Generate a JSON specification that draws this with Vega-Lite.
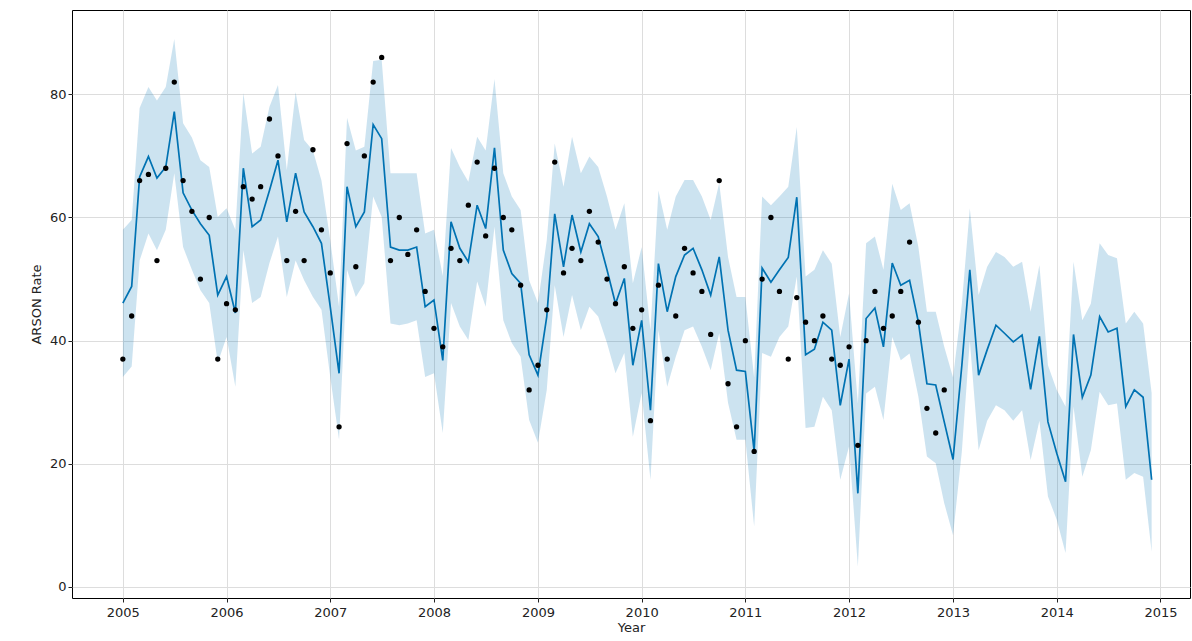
{
  "$schema": "https://vega.github.io/schema/vega-lite/v6.json",
  "width": 1118,
  "height": 588,
  "autosize": "none",
  "padding": {"left": 72, "top": 10, "right": 2, "bottom": 43},
  "background": "white",
  "config": {
    "view": {"stroke": "#000000", "strokeWidth": 1},
    "font": "DejaVu Sans",
    "axis": {
      "labelFont": "DejaVu Sans",
      "labelFontSize": 13,
      "labelColor": "#222222",
      "titleFont": "DejaVu Sans",
      "titleFontSize": 13,
      "titleFontWeight": "normal",
      "titleColor": "#222222",
      "gridColor": "#dddddd",
      "domain": false,
      "tickColor": "#222222",
      "tickSize": 4
    }
  },
  "data": {
    "values": [
      {"ds": "2005/01/01", "yhat": 46.1, "lower": 34.1, "upper": 58, "y": 37},
      {"ds": "2005/02/01", "yhat": 48.8, "lower": 35.8, "upper": 59.6, "y": 44},
      {"ds": "2005/03/01", "yhat": 66.6, "lower": 53, "upper": 77.8, "y": 66},
      {"ds": "2005/04/01", "yhat": 69.9, "lower": 57.4, "upper": 81.2, "y": 67},
      {"ds": "2005/05/01", "yhat": 66.4, "lower": 54.7, "upper": 79, "y": 53},
      {"ds": "2005/06/01", "yhat": 68.2, "lower": 58, "upper": 81.2, "y": 68},
      {"ds": "2005/07/01", "yhat": 77.2, "lower": 67.2, "upper": 89, "y": 82},
      {"ds": "2005/08/01", "yhat": 64, "lower": 55.2, "upper": 75.3, "y": 66},
      {"ds": "2005/09/01", "yhat": 61.2, "lower": 51.5, "upper": 73, "y": 61},
      {"ds": "2005/10/01", "yhat": 59, "lower": 48.2, "upper": 69.3, "y": 50},
      {"ds": "2005/11/01", "yhat": 57.1, "lower": 46.1, "upper": 68.2, "y": 60},
      {"ds": "2005/12/01", "yhat": 47.4, "lower": 36.4, "upper": 60.1, "y": 37},
      {"ds": "2006/01/01", "yhat": 50.4, "lower": 40.6, "upper": 61.5, "y": 46},
      {"ds": "2006/02/01", "yhat": 44.5, "lower": 32.5, "upper": 58, "y": 45},
      {"ds": "2006/03/01", "yhat": 68, "lower": 54.7, "upper": 80.2, "y": 65},
      {"ds": "2006/04/01", "yhat": 58.5, "lower": 46.1, "upper": 70.4, "y": 63},
      {"ds": "2006/05/01", "yhat": 59.6, "lower": 47.1, "upper": 71.5, "y": 65},
      {"ds": "2006/06/01", "yhat": 64.4, "lower": 52.6, "upper": 78, "y": 76},
      {"ds": "2006/07/01", "yhat": 69.3, "lower": 56.9, "upper": 81.5, "y": 70},
      {"ds": "2006/08/01", "yhat": 59.3, "lower": 47.1, "upper": 67.7, "y": 53},
      {"ds": "2006/09/01", "yhat": 67.2, "lower": 53, "upper": 80.4, "y": 61},
      {"ds": "2006/10/01", "yhat": 60.9, "lower": 49.8, "upper": 72.6, "y": 53},
      {"ds": "2006/11/01", "yhat": 58.5, "lower": 47.1, "upper": 70.9, "y": 71},
      {"ds": "2006/12/01", "yhat": 55.8, "lower": 45, "upper": 66, "y": 58},
      {"ds": "2007/01/01", "yhat": 45.5, "lower": 34.1, "upper": 56.3, "y": 51},
      {"ds": "2007/02/01", "yhat": 34.7, "lower": 23.9, "upper": 45.5, "y": 26},
      {"ds": "2007/03/01", "yhat": 65, "lower": 51.5, "upper": 76.2, "y": 72},
      {"ds": "2007/04/01", "yhat": 58.5, "lower": 47.1, "upper": 70.9, "y": 52},
      {"ds": "2007/05/01", "yhat": 60.9, "lower": 49.3, "upper": 71.5, "y": 70},
      {"ds": "2007/06/01", "yhat": 75.1, "lower": 63.4, "upper": 85.4, "y": 82},
      {"ds": "2007/07/01", "yhat": 72.8, "lower": 60.1, "upper": 85.6, "y": 86},
      {"ds": "2007/08/01", "yhat": 55.2, "lower": 42.8, "upper": 67.2, "y": 53},
      {"ds": "2007/09/01", "yhat": 54.7, "lower": 42.5, "upper": 67.2, "y": 60},
      {"ds": "2007/10/01", "yhat": 54.7, "lower": 42.8, "upper": 67.2, "y": 54},
      {"ds": "2007/11/01", "yhat": 55.2, "lower": 43.3, "upper": 67.2, "y": 58},
      {"ds": "2007/12/01", "yhat": 45.5, "lower": 34.1, "upper": 57.4, "y": 48},
      {"ds": "2008/01/01", "yhat": 46.6, "lower": 34.7, "upper": 58, "y": 42},
      {"ds": "2008/02/01", "yhat": 36.8, "lower": 25, "upper": 50.5, "y": 39},
      {"ds": "2008/03/01", "yhat": 59.3, "lower": 46.1, "upper": 71.3, "y": 55},
      {"ds": "2008/04/01", "yhat": 55, "lower": 42.3, "upper": 68.2, "y": 53},
      {"ds": "2008/05/01", "yhat": 52.8, "lower": 40.1, "upper": 65.8, "y": 62},
      {"ds": "2008/06/01", "yhat": 62, "lower": 49.6, "upper": 73.1, "y": 69},
      {"ds": "2008/07/01", "yhat": 58.2, "lower": 45.5, "upper": 70.9, "y": 57},
      {"ds": "2008/08/01", "yhat": 71.3, "lower": 58.5, "upper": 82.5, "y": 68},
      {"ds": "2008/09/01", "yhat": 54.7, "lower": 43.3, "upper": 67.2, "y": 60},
      {"ds": "2008/10/01", "yhat": 50.9, "lower": 39.6, "upper": 63.4, "y": 58},
      {"ds": "2008/11/01", "yhat": 49.3, "lower": 37.4, "upper": 61.2, "y": 49},
      {"ds": "2008/12/01", "yhat": 37.7, "lower": 27.1, "upper": 49.8, "y": 32},
      {"ds": "2009/01/01", "yhat": 34.4, "lower": 23.4, "upper": 46.1, "y": 36},
      {"ds": "2009/02/01", "yhat": 43.9, "lower": 32, "upper": 56.3, "y": 45},
      {"ds": "2009/03/01", "yhat": 60.6, "lower": 49, "upper": 72, "y": 69},
      {"ds": "2009/04/01", "yhat": 52, "lower": 40.6, "upper": 65, "y": 51},
      {"ds": "2009/05/01", "yhat": 60.4, "lower": 47.4, "upper": 73.1, "y": 55},
      {"ds": "2009/06/01", "yhat": 54.4, "lower": 41.7, "upper": 67.2, "y": 53},
      {"ds": "2009/07/01", "yhat": 59, "lower": 45.5, "upper": 69.9, "y": 61},
      {"ds": "2009/08/01", "yhat": 56.9, "lower": 43.9, "upper": 68.2, "y": 56},
      {"ds": "2009/09/01", "yhat": 51.5, "lower": 39.6, "upper": 63.4, "y": 50},
      {"ds": "2009/10/01", "yhat": 46, "lower": 34.7, "upper": 58, "y": 46},
      {"ds": "2009/11/01", "yhat": 50.1, "lower": 38, "upper": 62.3, "y": 52},
      {"ds": "2009/12/01", "yhat": 36, "lower": 24.4, "upper": 49.3, "y": 42},
      {"ds": "2010/01/01", "yhat": 43.3, "lower": 31.5, "upper": 55.2, "y": 45},
      {"ds": "2010/02/01", "yhat": 28.7, "lower": 17.4, "upper": 41.7, "y": 27},
      {"ds": "2010/03/01", "yhat": 52.5, "lower": 41.7, "upper": 64.4, "y": 49},
      {"ds": "2010/04/01", "yhat": 44.7, "lower": 32.5, "upper": 58, "y": 37},
      {"ds": "2010/05/01", "yhat": 50.4, "lower": 37.4, "upper": 63.4, "y": 44},
      {"ds": "2010/06/01", "yhat": 53.9, "lower": 41.7, "upper": 66.1, "y": 55},
      {"ds": "2010/07/01", "yhat": 55, "lower": 42.3, "upper": 66.1, "y": 51},
      {"ds": "2010/08/01", "yhat": 51.5, "lower": 39, "upper": 63.4, "y": 48},
      {"ds": "2010/09/01", "yhat": 47.4, "lower": 35.2, "upper": 59.6, "y": 41},
      {"ds": "2010/10/01", "yhat": 53.6, "lower": 41.2, "upper": 65.6, "y": 66},
      {"ds": "2010/11/01", "yhat": 41.7, "lower": 29.9, "upper": 53.6, "y": 33},
      {"ds": "2010/12/01", "yhat": 35.2, "lower": 23.9, "upper": 47.1, "y": 26},
      {"ds": "2011/01/01", "yhat": 35, "lower": 23.9, "upper": 47.1, "y": 40},
      {"ds": "2011/02/01", "yhat": 22, "lower": 9.8, "upper": 34, "y": 22},
      {"ds": "2011/03/01", "yhat": 51.8, "lower": 38, "upper": 63.4, "y": 50},
      {"ds": "2011/04/01", "yhat": 49.5, "lower": 37.4, "upper": 62, "y": 60},
      {"ds": "2011/05/01", "yhat": 51.5, "lower": 40.6, "upper": 63.4, "y": 48},
      {"ds": "2011/06/01", "yhat": 53.5, "lower": 42.3, "upper": 65, "y": 37},
      {"ds": "2011/07/01", "yhat": 63.3, "lower": 50.4, "upper": 74.7, "y": 47},
      {"ds": "2011/08/01", "yhat": 37.7, "lower": 25.8, "upper": 50.4, "y": 43},
      {"ds": "2011/09/01", "yhat": 38.6, "lower": 26, "upper": 51.5, "y": 40},
      {"ds": "2011/10/01", "yhat": 43, "lower": 30.9, "upper": 54.7, "y": 44},
      {"ds": "2011/11/01", "yhat": 41.7, "lower": 28.7, "upper": 52.5, "y": 37},
      {"ds": "2011/12/01", "yhat": 29.5, "lower": 17.4, "upper": 40.6, "y": 36},
      {"ds": "2012/01/01", "yhat": 37, "lower": 22.8, "upper": 47.7, "y": 39},
      {"ds": "2012/02/01", "yhat": 15.2, "lower": 3.3, "upper": 29.8, "y": 23},
      {"ds": "2012/03/01", "yhat": 43.6, "lower": 31.4, "upper": 55.8, "y": 40},
      {"ds": "2012/04/01", "yhat": 45.3, "lower": 32.5, "upper": 56.9, "y": 48},
      {"ds": "2012/05/01", "yhat": 39, "lower": 27.1, "upper": 51.5, "y": 42},
      {"ds": "2012/06/01", "yhat": 52.6, "lower": 40.6, "upper": 65.5, "y": 44},
      {"ds": "2012/07/01", "yhat": 49, "lower": 36.8, "upper": 61.2, "y": 48},
      {"ds": "2012/08/01", "yhat": 49.8, "lower": 37.9, "upper": 62.3, "y": 56},
      {"ds": "2012/09/01", "yhat": 43, "lower": 30.9, "upper": 55.2, "y": 43},
      {"ds": "2012/10/01", "yhat": 33, "lower": 21.2, "upper": 44.7, "y": 29},
      {"ds": "2012/11/01", "yhat": 32.8, "lower": 20.1, "upper": 44.7, "y": 25},
      {"ds": "2012/12/01", "yhat": 26.8, "lower": 13.6, "upper": 39, "y": 32},
      {"ds": "2013/01/01", "yhat": 20.7, "lower": 8.4, "upper": 34},
      {"ds": "2013/02/01", "yhat": 36, "lower": 22, "upper": 46},
      {"ds": "2013/03/01", "yhat": 51.5, "lower": 40, "upper": 61.5},
      {"ds": "2013/04/01", "yhat": 34.4, "lower": 22.2, "upper": 47.4},
      {"ds": "2013/05/01", "yhat": 38.5, "lower": 27, "upper": 52},
      {"ds": "2013/06/01", "yhat": 42.5, "lower": 29.5, "upper": 54.4},
      {"ds": "2013/07/01", "yhat": 41.2, "lower": 28.7, "upper": 53.6},
      {"ds": "2013/08/01", "yhat": 39.8, "lower": 27, "upper": 52},
      {"ds": "2013/09/01", "yhat": 40.9, "lower": 28.7, "upper": 52.8},
      {"ds": "2013/10/01", "yhat": 32.1, "lower": 20.6, "upper": 44.7},
      {"ds": "2013/11/01", "yhat": 40.7, "lower": 27, "upper": 52.3},
      {"ds": "2013/12/01", "yhat": 26.8, "lower": 14.7, "upper": 36},
      {"ds": "2014/01/01", "yhat": 21.7, "lower": 10.9, "upper": 32},
      {"ds": "2014/02/01", "yhat": 17.1, "lower": 5.5, "upper": 29.3},
      {"ds": "2014/03/01", "yhat": 41, "lower": 29.3, "upper": 52.8},
      {"ds": "2014/04/01", "yhat": 30.8, "lower": 17.9, "upper": 43.3},
      {"ds": "2014/05/01", "yhat": 34.4, "lower": 22.2, "upper": 46},
      {"ds": "2014/06/01", "yhat": 43.9, "lower": 31.7, "upper": 55.8},
      {"ds": "2014/07/01", "yhat": 41.4, "lower": 29.5, "upper": 53.9},
      {"ds": "2014/08/01", "yhat": 42, "lower": 29.8, "upper": 53.4},
      {"ds": "2014/09/01", "yhat": 29.3, "lower": 17.4, "upper": 42.8},
      {"ds": "2014/10/01", "yhat": 32, "lower": 18.5, "upper": 44.7},
      {"ds": "2014/11/01", "yhat": 30.8, "lower": 17.9, "upper": 42.8},
      {"ds": "2014/12/01", "yhat": 17.4, "lower": 5.7, "upper": 31.5}
    ]
  },
  "encoding": {
    "x": {
      "field": "ds",
      "type": "temporal",
      "title": "Year",
      "scale": {"domain": [{"year": 2004, "month": 7, "date": 6}, {"year": 2015, "month": 4, "date": 15}], "nice": false},
      "axis": {"format": "%Y", "tickCount": {"interval": "year", "step": 1}, "titlePadding": 2, "labelPadding": 4}
    }
  },
  "layer": [
    {
      "mark": {"type": "area", "color": "#0072B2", "opacity": 0.2},
      "encoding": {
        "y": {
          "field": "lower",
          "type": "quantitative",
          "title": "ARSON Rate",
          "scale": {"domain": [-1.8, 93.7], "nice": false, "zero": false},
          "axis": {"values": [0, 20, 40, 60, 80], "titlePadding": 6}
        },
        "y2": {"field": "upper"}
      }
    },
    {
      "mark": {"type": "line", "color": "#0072B2", "strokeWidth": 1.7},
      "encoding": {"y": {"field": "yhat", "type": "quantitative"}}
    },
    {
      "transform": [{"filter": "isValid(datum.y)"}],
      "mark": {"type": "circle", "color": "#000000", "opacity": 1, "size": 28},
      "encoding": {"y": {"field": "y", "type": "quantitative"}}
    }
  ]
}
